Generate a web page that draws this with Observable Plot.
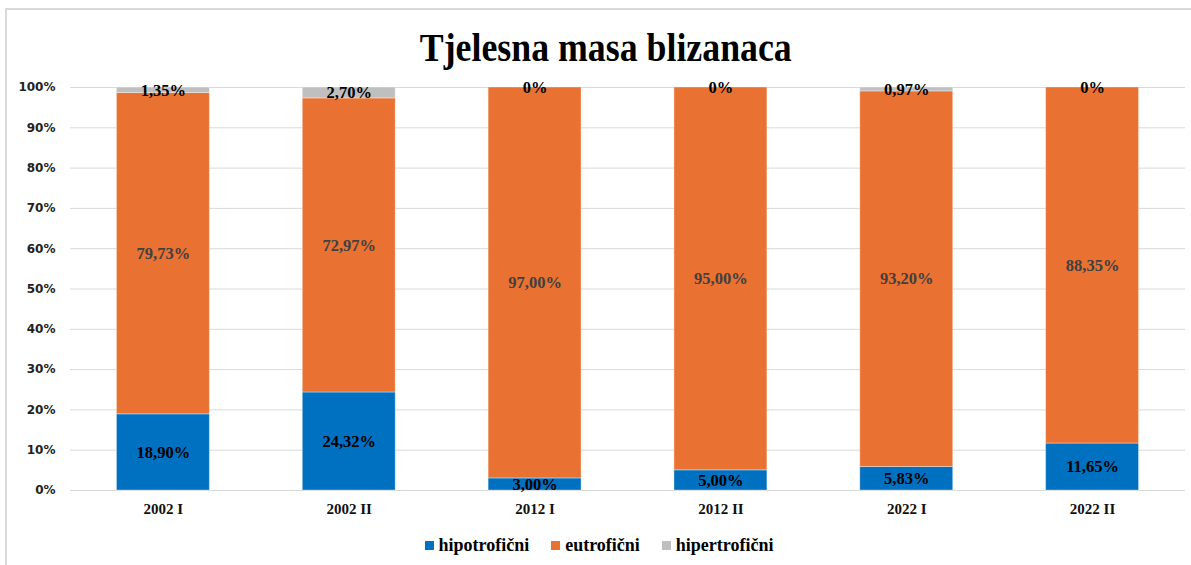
<!DOCTYPE html>
<html>
<head>
<meta charset="utf-8">
<script src="https://cdn.jsdelivr.net/npm/d3@7"></script>
<script src="https://cdn.jsdelivr.net/npm/@observablehq/plot@0.6"></script>
<style>
  html, body { margin: 0; padding: 0; background: #fff; }
  body { width: 1191px; height: 565px; position: relative; overflow: hidden; }
  #frame { position: absolute; left: 5px; top: 8px; right: -10px; bottom: -10px;
           border-left: 2px solid #d9d9d9; border-top: 2px solid #d9d9d9; }
  #title { position: absolute; left: 0; top: 24px; width: 1211px; text-align: center;
           font-family: "Liberation Serif", "Times New Roman", serif; font-weight: bold;
           font-size: 40px; line-height: 48px; color: #000; }
  #title span { display: inline-block; transform: scaleX(0.895); transform-origin: center; }
  #chart { position: absolute; left: 0; top: 70px; }
  #legend { position: absolute; left: 0; top: 535px; width: 1198px; display: flex; justify-content: center;
            font-family: "Liberation Serif", "Times New Roman", serif; font-weight: bold; font-size: 18px; color: #000; }
  #legend .item { display: flex; align-items: center; margin: 0 11px; }
  #legend .sw { width: 9px; height: 9px; margin-right: 5px; }
</style>
</head>
<body>
<div id="frame"></div>
<div id="title"><span>Tjelesna masa blizanaca</span></div>
<div id="chart"></div>
<div id="legend"></div>
<script>
const categories = ["2002 I", "2002 II", "2012 I", "2012 II", "2022 I", "2022 II"];
const seriesNames = ["hipotrofični", "eutrofični", "hipertrofični"];
const hipotroficni = [18.90, 24.32, 3.00, 5.00, 5.83, 11.65];
const eutroficni = [79.73, 72.97, 97.00, 95.00, 93.20, 88.35];
const hipertroficni = [1.35, 2.70, 0, 0, 0.97, 0];
const yTicks = [0, 10, 20, 30, 40, 50, 60, 70, 80, 90, 100];
const colors = ["#0070C0", "#E97132", "#BFBFBF"];
const labelColors = ["#000000", "#404040", "#000000"];

const seriesValues = [hipotroficni, eutroficni, hipertroficni];
const data = [];
seriesNames.forEach((s, si) => {
  categories.forEach((c, ci) => {
    data.push({category: c, series: s, value: seriesValues[si][ci]});
  });
});

const fmt = v => v === 0 ? "0%" : v.toFixed(2).replace(".", ",") + "%";

const plot = Plot.plot({
  width: 1191,
  height: 460,
  marginTop: 17,
  marginBottom: 40,
  marginLeft: 70,
  marginRight: 6,
  x: {domain: categories, paddingInner: 0.5, paddingOuter: 0.25, align: 0.5, round: false, label: null},
  y: {domain: [0, 100], label: null},
  color: {domain: seriesNames, range: colors},
  style: {background: "transparent"},
  marks: [
    Plot.gridY(yTicks, {stroke: "#d9d9d9", strokeOpacity: 1, strokeWidth: 1}),
    Plot.axisY(yTicks, {tickSize: 0, tickPadding: 15, tickFormat: d => d + "%",
      fontFamily: "DejaVu Sans", fontWeight: "bold", fontSize: 12, fill: "#222", label: null}),
    Plot.axisX({tickSize: 0, tickPadding: 13, fontFamily: "Liberation Serif", fontWeight: "bold",
      fontSize: 15, fill: "#111", label: null}),
    Plot.barY(data, {x: "category", y: "value", fill: "series", order: null,
      stroke: "#ffffff", strokeOpacity: 0.35, strokeWidth: 1}),
    ...seriesNames.map((s, si) => Plot.text(data, Plot.stackY({
      x: "category", y: "value", z: "series", order: null,
      text: d => d.series === s ? fmt(d.value) : "",
      fill: labelColors[si],
      fontFamily: "Liberation Serif", fontWeight: "bold", fontSize: 16.5
    })))
  ]
});
document.getElementById("chart").appendChild(plot);

const legend = document.getElementById("legend");
seriesNames.forEach((s, i) => {
  const item = document.createElement("div");
  item.className = "item";
  const sw = document.createElement("div");
  sw.className = "sw";
  sw.style.background = colors[i];
  const t = document.createElement("span");
  t.textContent = s;
  item.appendChild(sw);
  item.appendChild(t);
  legend.appendChild(item);
});
</script>
</body>
</html>
